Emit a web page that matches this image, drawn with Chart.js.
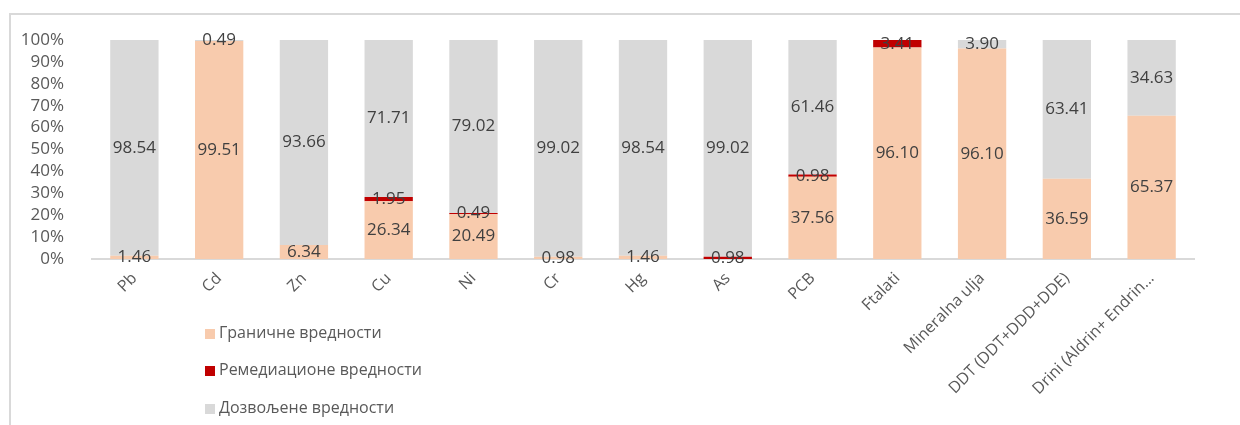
<!DOCTYPE html>
<html>
<head>
<meta charset="utf-8">
<script src="https://cdn.jsdelivr.net/npm/chart.js@4"></script>
<style>
    html, body { margin: 0; padding: 0; background: #fff; }
    #wrap { position: relative; width: 1240px; height: 425px; overflow: hidden; font-family: 'Open Sans', sans-serif; }
    #frame { position: absolute; left: 9px; top: 13px; width: 1300px; height: 500px; border-left: 2px solid #d9d9d9; border-top: 2px solid #d9d9d9; }
    canvas { position: absolute; left: 0; top: 0; }
    .leg { position: absolute; left: 205px; font-size: 16px; color: #595959; line-height: 20px; white-space: nowrap; }
    .leg span { display: inline-block; width: 10px; height: 10px; margin-right: 4px; vertical-align: -1px; }
</style>
</head>
<body>
<div id="wrap">
    <div id="frame"></div>
    <canvas id="chart" width="1240" height="425"></canvas>
    <div class="leg" style="top:322px"><span style="background:#f8cbad"></span>Граничне вредности</div>
    <div class="leg" style="top:359px"><span style="background:#c00000"></span>Ремедиационе вредности</div>
    <div class="leg" style="top:397px"><span style="background:#d9d9d9"></span>Дозвољене вредности</div>
</div>
<script>
// categories and values (%)
const categories = ['Pb', 'Cd', 'Zn', 'Cu', 'Ni', 'Cr', 'Hg', 'As', 'PCB', 'Ftalati', 'Mineralna ulja', 'DDT (DDT+DDD+DDE)', 'Drini (Aldrin+ Endrin...'];
const granicne   = [1.46, 99.51, 6.34, 26.34, 20.49, 0.98, 1.46, 0, 37.56, 96.10, 96.10, 36.59, 65.37];
const remedijac  = [0, 0, 0, 1.95, 0.49, 0, 0, 0.98, 0.98, 3.41, 0, 0, 0];
const dozvoljene = [98.54, 0.49, 93.66, 71.71, 79.02, 99.02, 98.54, 99.02, 61.46, 0, 3.90, 63.41, 34.63];
const yTicks = [0, 10, 20, 30, 40, 50, 60, 70, 80, 90, 100];

// 100% stacked: normalise each column
const totals = categories.map((c, i) => granicne[i] + remedijac[i] + dozvoljene[i]);
const pct = arr => arr.map((v, i) => v / totals[i] * 100);

const series = [
    { label: 'Граничне вредности', raw: granicne, color: '#f8cbad' },
    { label: 'Ремедиационе вредности', raw: remedijac, color: '#c00000' },
    { label: 'Дозвољене вредности', raw: dozvoljene, color: '#d9d9d9' }
];

// draws the value in the middle of each segment
const segmentLabels = {
    id: 'segmentLabels',
    afterDatasetsDraw(chart) {
        const ctx = chart.ctx;
        ctx.save();
        ctx.font = '17px "Open Sans"';
        ctx.fillStyle = '#404040';
        ctx.textAlign = 'center';
        ctx.textBaseline = 'middle';
        chart.data.datasets.forEach((ds, di) => {
            const meta = chart.getDatasetMeta(di);
            meta.data.forEach((bar, i) => {
                const v = series[di].raw[i];
                if (!v) return;
                ctx.fillText(v.toFixed(2), bar.x, (bar.y + bar.base) / 2);
            });
        });
        ctx.restore();
    }
};

new Chart(document.getElementById('chart'), {
    type: 'bar',
    data: {
        labels: categories,
        datasets: series.map(s => ({
            label: s.label,
            data: pct(s.raw),
            backgroundColor: s.color,
            borderWidth: 0,
            barPercentage: 0.57,
            categoryPercentage: 1
        }))
    },
    options: {
        responsive: false,
        animation: false,
        layout: { padding: { top: 40, right: 46, left: 0, bottom: 0 } },
        plugins: {
            legend: { display: false },
            tooltip: { enabled: false }
        },
        scales: {
            x: {
                stacked: true,
                grid: { display: false },
                border: { color: '#d9d9d9', width: 2 },
                ticks: {
                    autoSkip: false,
                    minRotation: 45,
                    maxRotation: 45,
                    padding: 2,
                    color: '#595959',
                    font: { family: 'Open Sans', size: 16 }
                },
                afterFit: s => { s.height = 166; }
            },
            y: {
                stacked: true,
                min: 0,
                max: 100,
                grid: { display: false },
                border: { display: false },
                afterBuildTicks: s => { s.ticks = yTicks.map(v => ({ value: v })); },
                ticks: {
                    autoSkip: false,
                    padding: 20,
                    color: '#595959',
                    font: { family: 'Open Sans', size: 17 },
                    callback: v => v + '%'
                },
                afterFit: s => { s.width = 92; }
            }
        }
    },
    plugins: [segmentLabels]
});
</script>
</body>
</html>
